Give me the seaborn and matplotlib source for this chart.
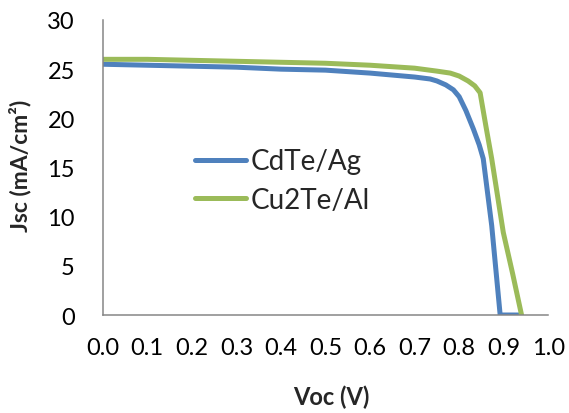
import matplotlib
matplotlib.use("Agg")
import matplotlib.pyplot as plt
import seaborn as sns
import pandas as pd

# Data
v_cdte = [0.0, 0.1, 0.2, 0.3, 0.4, 0.5, 0.6, 0.65, 0.7, 0.735, 0.75, 0.77, 0.787, 0.80, 0.815, 0.832, 0.845, 0.854, 0.873, 0.892, 0.90, 0.91, 0.92, 0.937]
j_cdte = [25.5, 25.4, 25.3, 25.2, 25.0, 24.9, 24.6, 24.4, 24.2, 24.0, 23.8, 23.4, 22.9, 22.2, 20.8, 18.9, 17.3, 15.9, 9.1, 0.0, 0.0, 0.0, 0.0, 0.0]

v_cu2te = [0.0, 0.1, 0.2, 0.3, 0.4, 0.5, 0.6, 0.7, 0.75, 0.78, 0.80, 0.82, 0.835, 0.847, 0.86, 0.873, 0.899, 0.92, 0.940]
j_cu2te = [26.0, 26.0, 25.9, 25.8, 25.7, 25.6, 25.4, 25.1, 24.8, 24.6, 24.3, 23.8, 23.3, 22.6, 19.2, 15.9, 8.4, 4.2, 0.0]

labels = ["CdTe/Ag", "Cu2Te/Al"]
colors = ["#4F81BD", "#9BBB59"]
x_ticks = [0.0, 0.1, 0.2, 0.3, 0.4, 0.5, 0.6, 0.7, 0.8, 0.9, 1.0]
y_ticks = [0, 5, 10, 15, 20, 25, 30]

df = pd.concat([
    pd.DataFrame({"V": v_cdte, "J": j_cdte, "cell": labels[0]}),
    pd.DataFrame({"V": v_cu2te, "J": j_cu2te, "cell": labels[1]}),
])

sns.set_style("white")
plt.rcParams["font.family"] = ["Lato", "DejaVu Sans"]

fig = plt.figure(figsize=(5.69, 4.14), dpi=100)
ax = fig.add_axes([0.1805, 0.2367, 0.7831, 0.7126])

sns.lineplot(data=df, x="V", y="J", hue="cell", palette=colors, sort=False,
             estimator=None, linewidth=3.6, ax=ax, legend=True)
for ln in ax.get_lines():
    ln.set_solid_joinstyle("round")
    ln.set_solid_capstyle("round")

ax.set_xlim(0, 1.0)
ax.set_ylim(0, 30)
ax.set_xticks(x_ticks)
ax.set_xticklabels([f"{t:.1f}" for t in x_ticks])
ax.set_yticks(y_ticks)
ax.set_yticklabels([str(t) for t in y_ticks])

for s in ["top", "right"]:
    ax.spines[s].set_visible(False)
for s in ["left", "bottom"]:
    ax.spines[s].set_color("#868686")
    ax.spines[s].set_linewidth(1.1)

ax.tick_params(axis="both", direction="in", length=6.5, width=1.1, color="#868686",
               labelsize=17, labelcolor="black")
ax.tick_params(axis="y", pad=20)
ax.tick_params(axis="x", pad=16)

ax.set_xlabel("Voc (V)", fontsize=17, fontweight="bold")
ax.set_ylabel("Jsc (mA/cm²)", fontsize=16.5, fontweight="bold")
ax.xaxis.set_label_coords(0.513, -0.235)
ax.yaxis.set_label_coords(-0.16, 0.51)

leg = ax.legend(loc="center left", bbox_to_anchor=(0.207, 0.456), frameon=False,
                fontsize=20, handlelength=1.85, handletextpad=0.15,
                labelspacing=0.45, borderpad=0, borderaxespad=0)
for line in leg.get_lines():
    line.set_linewidth(3.6)

fig.savefig("out.png", dpi=100)
